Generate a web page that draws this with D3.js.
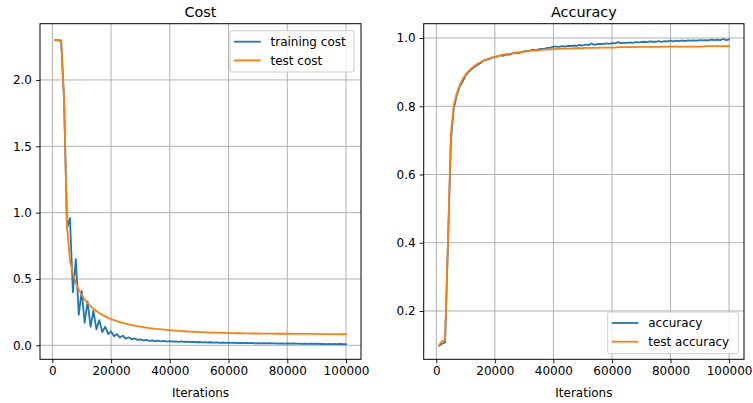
<!DOCTYPE html>
<html>
<head>
<meta charset="utf-8">
<script src="https://cdn.jsdelivr.net/npm/d3@7"></script>
<style>
  html, body { margin: 0; padding: 0; background: #fff; }
  svg { display: block; font-family: "DejaVu Sans", sans-serif; }
</style>
</head>
<body>
<svg id="chart" width="753" height="403"></svg>
<script>
// ---------------- data ----------------
const iterations = [
  1000,2000,3000,4000,5000,6000,7000,8000,9000,10000,
  11000,12000,13000,14000,15000,16000,17000,18000,19000,20000,
  21000,22000,23000,24000,25000,26000,27000,28000,29000,30000,
  31000,32000,33000,34000,35000,36000,37000,38000,39000,40000,
  41000,42000,43000,44000,45000,46000,47000,48000,49000,50000,
  51000,52000,53000,54000,55000,56000,57000,58000,59000,60000,
  61000,62000,63000,64000,65000,66000,67000,68000,69000,70000,
  71000,72000,73000,74000,75000,76000,77000,78000,79000,80000,
  81000,82000,83000,84000,85000,86000,87000,88000,89000,90000,
  91000,92000,93000,94000,95000,96000,97000,98000,99000,100000
];

const trainingCost = [
  2.30,2.30,2.29,1.85,0.88,0.96,0.40,0.65,0.23,0.41,
  0.17,0.33,0.14,0.26,0.12,0.19,0.10,0.14,0.085,0.105,
  0.068,0.085,0.058,0.072,0.050,0.060,0.045,0.052,0.040,0.045,
  0.037,0.041,0.034,0.038,0.032,0.035,0.030,0.033,0.028,0.031,
  0.027,0.030,0.026,0.029,0.025,0.027,0.024,0.026,0.023,0.025,
  0.022,0.024,0.021,0.023,0.020,0.022,0.019,0.021,0.019,0.020,
  0.018,0.020,0.017,0.019,0.017,0.018,0.016,0.018,0.015,0.017,
  0.015,0.016,0.014,0.016,0.014,0.015,0.013,0.015,0.013,0.014,
  0.012,0.014,0.012,0.013,0.011,0.013,0.011,0.012,0.010,0.012,
  0.010,0.011,0.009,0.011,0.009,0.010,0.009,0.010,0.008,0.009
];

const testCost = [
  2.30,2.30,2.30,1.85,0.90,0.64,0.54,0.47,0.42,0.38,
  0.345,0.318,0.295,0.275,0.258,0.243,0.230,0.218,0.207,0.198,
  0.190,0.182,0.175,0.169,0.163,0.158,0.153,0.148,0.144,0.140,
  0.136,0.133,0.130,0.127,0.124,0.122,0.120,0.118,0.116,0.114,
  0.112,0.110,0.109,0.107,0.106,0.104,0.103,0.102,0.101,0.100,
  0.099,0.098,0.097,0.096,0.096,0.095,0.094,0.094,0.093,0.093,
  0.092,0.092,0.091,0.091,0.090,0.090,0.090,0.089,0.089,0.089,
  0.088,0.088,0.088,0.088,0.088,0.087,0.087,0.087,0.087,0.087,
  0.087,0.086,0.086,0.086,0.086,0.086,0.086,0.086,0.086,0.086,
  0.085,0.085,0.085,0.085,0.085,0.085,0.085,0.085,0.085,0.085
];

const accuracy = [
  0.098,0.104,0.108,0.40,0.70,0.795,0.832,0.858,0.872,0.890,
  0.900,0.908,0.915,0.921,0.926,0.933,0.936,0.938,0.942,0.944,
  0.946,0.949,0.948,0.952,0.951,0.955,0.957,0.956,0.958,0.961,
  0.962,0.963,0.966,0.964,0.967,0.968,0.969,0.971,0.972,0.975,
  0.975,0.974,0.976,0.975,0.977,0.976,0.978,0.977,0.980,0.978,
  0.981,0.979,0.984,0.980,0.982,0.983,0.982,0.984,0.983,0.985,
  0.984,0.988,0.985,0.986,0.986,0.987,0.986,0.988,0.987,0.988,
  0.989,0.988,0.990,0.989,0.989,0.991,0.989,0.991,0.990,0.992,
  0.990,0.992,0.991,0.993,0.991,0.993,0.992,0.993,0.992,0.994,
  0.993,0.994,0.993,0.995,0.994,0.995,0.994,0.997,0.994,0.996
];

const testAccuracy = [
  0.100,0.112,0.114,0.41,0.72,0.805,0.838,0.862,0.879,0.893,
  0.903,0.911,0.918,0.924,0.929,0.933,0.937,0.940,0.943,0.945,
  0.947,0.949,0.951,0.953,0.954,0.955,0.957,0.958,0.959,0.960,
  0.961,0.962,0.963,0.964,0.964,0.965,0.966,0.966,0.967,0.967,
  0.968,0.968,0.968,0.969,0.969,0.969,0.970,0.970,0.970,0.970,
  0.971,0.971,0.971,0.971,0.971,0.972,0.972,0.972,0.972,0.972,
  0.972,0.973,0.973,0.973,0.973,0.973,0.973,0.973,0.974,0.974,
  0.974,0.974,0.974,0.974,0.974,0.974,0.975,0.975,0.975,0.975,
  0.975,0.975,0.975,0.975,0.975,0.975,0.975,0.975,0.975,0.975,
  0.975,0.976,0.976,0.976,0.976,0.976,0.976,0.976,0.976,0.976
];

const xTicks = [0, 20000, 40000, 60000, 80000, 100000];
const costTicks = [0.0, 0.5, 1.0, 1.5, 2.0];
const accTicks = [0.2, 0.4, 0.6, 0.8, 1.0];

const titles = ["Cost", "Accuracy"];
const xLabel = "Iterations";
const costLegend = ["training cost", "test cost"];
const accLegend = ["accuracy", "test accuracy"];
const colors = ["#1f77b4", "#ff7f0e"];

// ---------------- drawing ----------------
const svg = d3.select("#chart");
const FS = 12;

function panel(opts) {
  const { left, right, top, bottom, xDomain, yDomain, yTicks, series, legend, legendBox, title } = opts;
  const x = d3.scaleLinear().domain(xDomain).range([left, right]);
  const y = d3.scaleLinear().domain(yDomain).range([bottom, top]);
  const g = svg.append("g");

  // grid
  g.append("g").selectAll("line").data(xTicks).join("line")
    .attr("x1", d => x(d)).attr("x2", d => x(d))
    .attr("y1", top).attr("y2", bottom)
    .attr("stroke", "#b0b0b0").attr("stroke-width", 1);
  g.append("g").selectAll("line").data(yTicks).join("line")
    .attr("x1", left).attr("x2", right)
    .attr("y1", d => y(d)).attr("y2", d => y(d))
    .attr("stroke", "#b0b0b0").attr("stroke-width", 1);

  // lines
  series.forEach((vals, i) => {
    const line = d3.line().x((d, j) => x(iterations[j])).y(d => y(d));
    g.append("path").datum(vals)
      .attr("d", line)
      .attr("fill", "none")
      .attr("stroke", colors[i])
      .attr("stroke-width", 1.8)
      .attr("stroke-linejoin", "round")
      .attr("stroke-linecap", "square");
  });

  // axes
  const xAxis = d3.axisBottom(x).tickValues(xTicks).tickSize(4).tickPadding(3).tickFormat(d3.format("d"));
  const gx = g.append("g").attr("transform", `translate(0,${bottom})`).call(xAxis);
  const yAxis = d3.axisLeft(y).tickValues(yTicks).tickSize(4).tickPadding(4).tickFormat(d3.format(".1f"));
  const gy = g.append("g").attr("transform", `translate(${left},0)`).call(yAxis);
  [gx, gy].forEach(a => {
    a.select(".domain").remove();
    a.selectAll(".tick line").attr("stroke", "#000").attr("stroke-width", 0.9);
    a.selectAll(".tick text").attr("fill", "#000")
      .style("font-family", "'DejaVu Sans', sans-serif").style("font-size", FS + "px");
  });

  // frame
  g.append("rect").attr("x", left).attr("y", top)
    .attr("width", right - left).attr("height", bottom - top)
    .attr("fill", "none").attr("stroke", "#000").attr("stroke-width", 1);

  // title and x label
  g.append("text").attr("x", (left + right) / 2).attr("y", top - 7)
    .attr("text-anchor", "middle").style("font-size", "14.4px").text(title);
  g.append("text").attr("x", (left + right) / 2).attr("y", bottom + 38)
    .attr("text-anchor", "middle").style("font-size", FS + "px").text(xLabel);

  // legend
  const lg = g.append("g");
  lg.append("rect").attr("x", legendBox.x).attr("y", legendBox.y)
    .attr("width", legendBox.w).attr("height", legendBox.h)
    .attr("rx", 2).attr("fill", "#fff").attr("fill-opacity", 0.8)
    .attr("stroke", "#cccccc").attr("stroke-width", 1);
  legend.forEach((label, i) => {
    const cy = legendBox.y + 11 + i * 18.7;
    lg.append("line").attr("x1", legendBox.x + 4).attr("x2", legendBox.x + 30.7)
      .attr("y1", cy).attr("y2", cy)
      .attr("stroke", colors[i]).attr("stroke-width", 1.8);
    lg.append("text").attr("x", legendBox.x + 40.5).attr("y", cy + 4.3)
      .style("font-size", FS + "px").text(label);
  });
}

panel({
  left: 40, right: 361, top: 23.7, bottom: 359.3,
  xDomain: [-4200, 105100], yDomain: [-0.1055, 2.424],
  yTicks: costTicks, series: [trainingCost, testCost],
  legend: costLegend, legendBox: { x: 230, y: 30.7, w: 124, h: 41.3 },
  title: titles[0]
});

panel({
  left: 423.7, right: 744, top: 23.7, bottom: 359.3,
  xDomain: [-4300, 105100], yDomain: [0.0585, 1.0419],
  yTicks: accTicks, series: [accuracy, testAccuracy],
  legend: accLegend, legendBox: { x: 607.7, y: 312, w: 130.6, h: 41.7 },
  title: titles[1]
});
</script>
</body>
</html>
